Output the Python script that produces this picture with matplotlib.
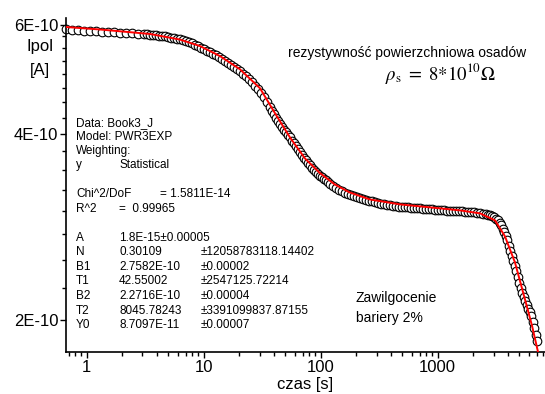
import numpy as np
import matplotlib.pyplot as plt
from matplotlib.ticker import FixedLocator, FixedFormatter, LogLocator, NullFormatter

plt.rcParams['font.family'] = ['Liberation Sans', 'DejaVu Sans']
plt.rcParams['mathtext.fontset'] = 'stix'

# punkty pomiarowe: czas [s] i prad polaryzacji [1E-10 A]
czas = [0.666, 0.749, 0.843, 0.948, 1.067, 1.20, 1.35, 1.52, 1.71, 1.93,
        2.17, 2.44, 2.74, 3.09, 3.28, 3.48, 3.69, 3.91, 4.15, 4.40,
        4.67, 4.95, 5.25, 5.57, 5.91, 6.27, 6.65, 7.06, 7.49, 7.94,
        8.43, 8.94, 9.48, 10.06, 10.7, 11.3, 12.0, 12.7, 13.5, 14.3,
        15.2, 16.1, 17.1, 18.2, 19.3, 20.4, 21.7, 23.0, 24.4, 25.9,
        27.4, 29.1, 30.9, 32.8, 34.8, 36.9, 38.4, 39.9, 41.5, 43.2,
        44.9, 46.7, 48.6, 50.5, 52.5, 54.7, 56.9, 59.1, 61.5, 64.0,
        66.5, 69.2, 72.0, 74.9, 77.9, 81.0, 84.3, 87.6, 91.2, 94.8,
        98.6, 103, 107, 111, 115, 120, 127, 135, 143, 152,
        161, 171, 182, 193, 204, 217, 230, 244, 259, 274,
        291, 309, 328, 348, 369, 391, 415, 440, 467, 495,
        525, 557, 591, 627, 666, 706, 749, 794, 843, 894,
        948, 1006, 1067, 1132, 1201, 1274, 1351, 1434, 1521, 1613,
        1711, 1816, 1926, 2044, 2167, 2299, 2440, 2587, 2691, 2800,
        2911, 3029, 3150, 3277, 3375, 3475, 3580, 3687, 3798, 3911,
        4029, 4149, 4274, 4401, 4533, 4669, 4810, 4953, 5102, 5254,
        5412, 5574, 5741, 5913, 6090, 6272, 6461, 6654, 6853, 7059]
ipol = [5.911, 5.889, 5.889, 5.867, 5.867, 5.867, 5.845, 5.845, 5.845, 5.823,
        5.823, 5.823, 5.802, 5.802, 5.791, 5.780, 5.780, 5.780, 5.769, 5.758,
        5.748, 5.737, 5.726, 5.715, 5.705, 5.694, 5.673, 5.652, 5.630, 5.609,
        5.578, 5.547, 5.516, 5.485, 5.454, 5.423, 5.393, 5.363, 5.323, 5.283,
        5.243, 5.204, 5.165, 5.127, 5.088, 5.050, 5.003, 4.957, 4.902, 4.847,
        4.784, 4.721, 4.651, 4.582, 4.497, 4.414, 4.357, 4.300, 4.244, 4.189,
        4.142, 4.096, 4.058, 4.021, 3.983, 3.946, 3.902, 3.859, 3.816, 3.774,
        3.732, 3.691, 3.657, 3.623, 3.589, 3.556, 3.523, 3.490, 3.464, 3.439,
        3.419, 3.400, 3.381, 3.363, 3.338, 3.313, 3.288, 3.264, 3.246, 3.228,
        3.210, 3.192, 3.180, 3.168, 3.156, 3.145, 3.133, 3.122, 3.116, 3.110,
        3.098, 3.087, 3.081, 3.076, 3.070, 3.064, 3.058, 3.053, 3.047, 3.042,
        3.042, 3.042, 3.036, 3.030, 3.030, 3.030, 3.025, 3.019, 3.019, 3.019,
        3.013, 3.008, 3.008, 3.008, 3.002, 2.997, 2.997, 2.997, 2.997, 2.997,
        2.991, 2.986, 2.986, 2.986, 2.980, 2.975, 2.969, 2.964, 2.958, 2.953,
        2.942, 2.931, 2.914, 2.898, 2.871, 2.845, 2.808, 2.771, 2.730, 2.689,
        2.639, 2.590, 2.542, 2.495, 2.449, 2.403, 2.350, 2.297, 2.254, 2.212,
        2.179, 2.147, 2.115, 2.084, 2.057, 2.030, 1.985, 1.940, 1.894, 1.848]

# krzywa dopasowania (PWR3EXP)
fit_czas = [0.666, 1.30, 3.48, 6.27, 9.3, 13.8, 20.4, 30.3, 40.8, 54.7,
            73.4, 98.6, 132, 177, 263, 476, 857, 1550, 2299, 3090,
            3760, 4580, 5574, 6400, 7200]
fit_ipol = [5.955, 5.900, 5.802, 5.683, 5.547, 5.343, 5.089, 4.740, 4.316, 3.946,
            3.650, 3.456, 3.313, 3.216, 3.133, 3.076, 3.042, 3.008, 2.975, 2.898,
            2.730, 2.476, 2.158, 1.957, 1.775]

x_ticks = [1, 10, 100, 1000]
x_tick_labels = ['1', '10', '100', '1000']
y_ticks = [2e-10, 4e-10, 6e-10]
y_tick_labels = ['2E-10', '4E-10', '6E-10']

W, H = 545, 394
fig = plt.figure(figsize=(W / 100, H / 100), dpi=100)
ax = fig.add_axes([66 / W, 42 / H, 479 / W, 334 / H])

ax.plot(czas, np.array(ipol) * 1e-10, 'o', mfc='white', mec='black',
        ms=6.2, mew=0.8, zorder=2, clip_on=False)
ax.plot(fit_czas, np.array(fit_ipol) * 1e-10, color='red', lw=1.4, zorder=3)

ax.set_xscale('log')
ax.set_yscale('log')
ax.set_xlim(0.666, 8260)
ax.set_ylim(1.775e-10, 6.158e-10)

ax.xaxis.set_major_locator(FixedLocator(x_ticks))
ax.xaxis.set_major_formatter(FixedFormatter(x_tick_labels))
ax.xaxis.set_minor_locator(LogLocator(base=10, subs=np.arange(2, 10)))
ax.xaxis.set_minor_formatter(NullFormatter())

ax.yaxis.set_major_locator(FixedLocator(y_ticks))
ax.yaxis.set_major_formatter(FixedFormatter(y_tick_labels))
y_minor = [v * 1e-10 for v in np.arange(1.75, 6.3, 0.25) if v not in (2, 4, 6)]
ax.yaxis.set_minor_locator(FixedLocator(y_minor))
ax.yaxis.set_minor_formatter(NullFormatter())

ax.tick_params(which='major', direction='out', length=4.5, width=1, labelsize=12, pad=1)
ax.tick_params(which='minor', direction='out', length=2.8, width=1)

ax.spines['top'].set_visible(False)
ax.spines['right'].set_visible(False)
for s in ('left', 'bottom'):
    ax.spines[s].set_linewidth(1.2)


def px(x, y, s, **kw):
    fig.text(x / W, 1 - y / H, s, va='center', **kw)


# opis osi
px(40, 47, 'Ipol', fontsize=12, ha='center')
px(40, 71, '[A]', fontsize=12, ha='center')
px(305, 384, 'czas [s]', fontsize=12, ha='center')

# parametry dopasowania
fs = 8.5
px(76, 123, 'Data: Book3_J', fontsize=fs)
px(76, 137, 'Model: PWR3EXP', fontsize=fs)
px(76, 151, 'Weighting:', fontsize=fs)
px(76, 165, 'y', fontsize=fs)
px(119, 165, 'Statistical', fontsize=fs)
px(76, 194, 'Chi^2/DoF', fontsize=fs)
px(160, 194, '= 1.5811E-14', fontsize=fs)
px(76, 209, 'R^2', fontsize=fs)
px(119, 209, '=  0.99965', fontsize=fs)

par_names = ['A', 'N', 'B1', 'T1', 'B2', 'T2', 'Y0']
par_values = ['1.8E-15\u00b10.00005', '0.30109', '2.7582E-10', '42.55002',
              '2.2716E-10', '8045.78243', '8.7097E-11']
par_errors = ['', '\u00b112058783118.14402', '\u00b10.00002', '\u00b12547125.72214',
              '\u00b10.00004', '\u00b13391099837.87155', '\u00b10.00007']
for i, (n, v, e) in enumerate(zip(par_names, par_values, par_errors)):
    yy = 238 + i * 14.5
    px(76, yy, n, fontsize=fs)
    px(119, yy, v, fontsize=fs)
    px(201, yy, e, fontsize=fs)

# opisy
px(407, 53, 'rezystywność powierzchniowa osadów', fontsize=10, ha='center')
px(440, 74, r'$\rho_{\rm s}\ =\ 8{*}10^{10}\Omega$', fontsize=13.5, ha='center')
px(356, 298, 'Zawilgocenie', fontsize=10)
px(356, 318, 'bariery 2%', fontsize=10)

fig.savefig('out.png', dpi=100)
